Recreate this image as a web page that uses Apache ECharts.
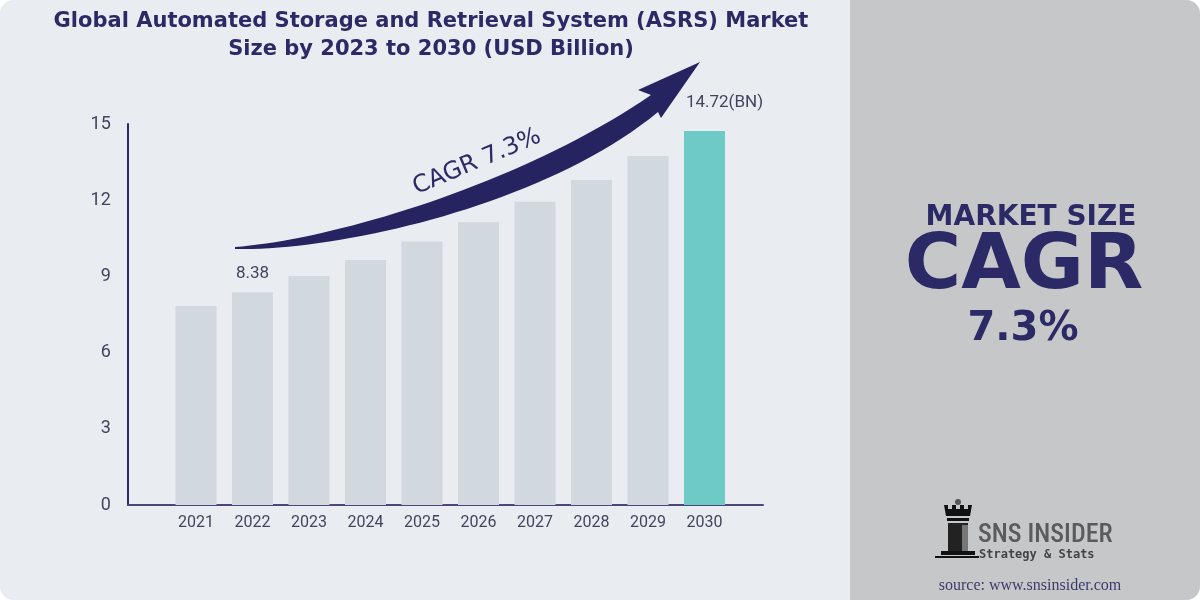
<!DOCTYPE html>
<html>
<head>
<meta charset="utf-8">
<script src="https://cdn.jsdelivr.net/npm/echarts@6/dist/echarts.min.js"></script>
<style>
html,body{margin:0;padding:0;background:#ffffff;}
#chart{width:1200px;height:600px;}
</style>
</head>
<body>
<div id="chart"></div>
<script>
// ---- data ----
const categories = ['2021','2022','2023','2024','2025','2026','2027','2028','2029','2030'];
const marketSize = [7.83, 8.38, 9.02, 9.65, 10.37, 11.13, 11.94, 12.80, 13.74, 14.72];
const yTicks = [0, 3, 6, 9, 12, 15];
const labelledYears = ['2022', '2030'];
const unitSuffix = { '2030': '(BN)' };
const titleLines = ['Global Automated Storage and Retrieval System (ASRS) Market', 'Size by 2023 to 2030 (USD Billion)'];
const cagrText = 'CAGR 7.3%';

// ---- styles ----
const NAVY = '#2b2a66';
const GREY_BAR = '#d1d8de';
const TEAL = '#6dcac4';
const LABEL = '#44445e';

const barData = marketSize.map((v, i) => {
  const cat = categories[i];
  const isLast = i === marketSize.length - 1;
  const item = {
    value: v,
    itemStyle: { color: isLast ? TEAL : GREY_BAR }
  };
  if (labelledYears.includes(cat)) {
    item.label = {
      show: true,
      position: 'top',
      distance: isLast ? 20 : 10,
      offset: isLast ? [20, 0] : [0, 0],
      formatter: () => v.toFixed(2) + (unitSuffix[cat] || ''),
      color: LABEL,
      fontSize: 17,
      fontFamily: 'Roboto'
    };
  }
  return item;
});

// decorative arrow outline (sampled cubic curves)
function cubic(p0, p1, p2, p3, n) {
  const pts = [];
  for (let k = 0; k <= n; k++) {
    const t = k / n, u = 1 - t;
    pts.push([
      u*u*u*p0[0] + 3*u*u*t*p1[0] + 3*u*t*t*p2[0] + t*t*t*p3[0],
      u*u*u*p0[1] + 3*u*u*t*p1[1] + 3*u*t*t*p2[1] + t*t*t*p3[1]
    ]);
  }
  return pts;
}
const arrowPts = []
  .concat(cubic([235,247],[330,240],[520,185],[651,95], 40))
  .concat([[638,90],[700,62],[661,118]])
  .concat(cubic([658,112],[545,205],[340,251],[235,249], 40));

const chart = echarts.init(document.getElementById('chart'), null, { renderer: 'canvas' });

const option = {
  backgroundColor: '#ffffff',
  animation: false,
  title: {
    text: titleLines.join('\n'),
    left: 426,
    top: 3,
    textAlign: 'center',
    textStyle: {
      fontFamily: 'DejaVu Sans',
      fontWeight: 'bold',
      fontSize: 21,
      lineHeight: 28,
      color: NAVY
    }
  },
  grid: [
    { left: 167.75, right: 467.25, top: 124, bottom: 95 },
    { left: 128, right: 437, top: 124, bottom: 95 }
  ],
  xAxis: [
    {
      type: 'category',
      gridIndex: 0,
      data: categories,
      axisLine: { show: false },
      axisTick: { show: false },
      axisLabel: { color: LABEL, fontSize: 16, fontFamily: 'Roboto', margin: 10 }
    },
    {
      type: 'value',
      gridIndex: 1,
      min: 0, max: 1,
      axisLine: { show: true, lineStyle: { color: '#4a4878', width: 2 } },
      axisTick: { show: false },
      axisLabel: { show: false },
      splitLine: { show: false }
    }
  ],
  yAxis: [
    {
      type: 'value',
      gridIndex: 0,
      min: yTicks[0],
      max: yTicks[yTicks.length - 1],
      interval: yTicks[1] - yTicks[0],
      offset: 40,
      axisLine: { show: true, lineStyle: { color: NAVY, width: 2 } },
      axisTick: { show: false },
      splitLine: { show: false },
      axisLabel: { color: LABEL, fontSize: 18, fontFamily: 'Roboto', margin: 17 }
    },
    {
      type: 'value',
      gridIndex: 1,
      min: 0, max: 1,
      show: false
    }
  ],
  series: [
    {
      type: 'bar',
      xAxisIndex: 0,
      yAxisIndex: 0,
      data: barData,
      barWidth: 41
    }
  ],
  graphic: [
    // card backgrounds
    { type: 'rect', z: -100, silent: true, shape: { x: 0, y: 0, width: 1200, height: 600, r: 14 }, style: { fill: '#e9ecf1' } },
    { type: 'rect', z: -99, silent: true, shape: { x: 850, y: 0, width: 350, height: 600, r: [0, 14, 14, 0] }, style: { fill: '#c6c7c9' } },
    // growth arrow
    {
      type: 'polygon', z: 10, silent: true,
      shape: { points: arrowPts },
      style: { fill: '#252360' }
    },
    {
      type: 'text', z: 10, silent: true,
      x: 477, y: 162, rotation: 0.40,
      style: { text: cagrText, align: 'center', verticalAlign: 'middle', fill: NAVY, font: '24px "DejaVu Sans"' }
    },
    // right panel text
    {
      type: 'text', z: 10, silent: true, x: 1031, y: 218,
      style: { text: 'MARKET SIZE', align: 'center', verticalAlign: 'middle', fill: NAVY, font: 'bold 28px "DejaVu Sans"' }
    },
    {
      type: 'text', z: 10, silent: true, x: 1024, y: 268,
      style: { text: 'CAGR', align: 'center', verticalAlign: 'middle', fill: NAVY, font: 'bold 77px "DejaVu Sans"' }
    },
    {
      type: 'text', z: 10, silent: true, x: 1023, y: 330,
      style: { text: '7.3%', align: 'center', verticalAlign: 'middle', fill: NAVY, font: 'bold 40px "DejaVu Sans"' }
    },
    // logo
    {
      type: 'group', z: 10, silent: true,
      children: [
        { type: 'circle', shape: { cx: 958, cy: 502, r: 3 }, style: { fill: '#555' } },
        { type: 'polygon', shape: { points: [[944,505],[948,505],[948,509],[952,509],[952,505],[956,505],[956,509],[960,509],[960,505],[964,505],[964,509],[968,509],[968,505],[972,505],[970,516],[946,516]] }, style: { fill: '#111' } },
        { type: 'rect', shape: { x: 947, y: 518, width: 22, height: 3 }, style: { fill: '#111' } },
        { type: 'rect', shape: { x: 948, y: 523, width: 20, height: 28 }, style: { fill: '#222' } },
        { type: 'rect', shape: { x: 962, y: 525, width: 6, height: 26 }, style: { fill: '#777' } },
        { type: 'rect', shape: { x: 941, y: 551, width: 34, height: 4 }, style: { fill: '#111' } },
        { type: 'rect', shape: { x: 935, y: 556, width: 44, height: 2 }, style: { fill: '#111' } }
      ]
    },
    {
      type: 'text', z: 10, silent: true, x: 978, y: 535,
      style: { text: 'SNS INSIDER', align: 'left', verticalAlign: 'middle', fill: '#5b5b5b', font: '500 26px "Roboto Condensed", "Liberation Sans Narrow", Roboto' }
    },
    {
      type: 'text', z: 10, silent: true, x: 979, y: 555,
      style: { text: 'Strategy & Stats', align: 'left', verticalAlign: 'middle', fill: '#444', font: 'bold 12px "DejaVu Sans Mono"' }
    },
    {
      type: 'text', z: 10, silent: true, x: 1030, y: 586,
      style: { text: 'source: www.snsinsider.com', align: 'center', verticalAlign: 'middle', fill: '#3c3c6c', font: '16px "Liberation Serif", "DejaVu Serif"' }
    }
  ]
};

chart.setOption(option);
</script>
</body>
</html>
